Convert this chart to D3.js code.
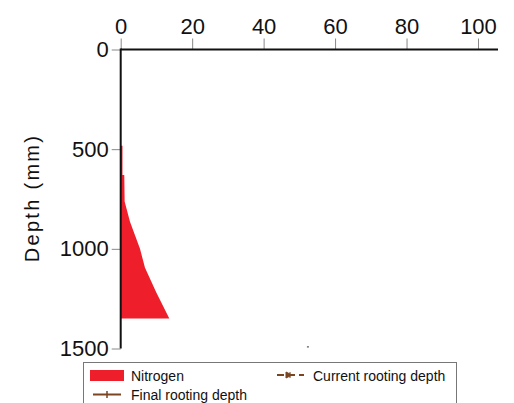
<!DOCTYPE html>
<html><head><meta charset="utf-8">
<script src="https://cdn.jsdelivr.net/npm/d3@7"></script>
<style>
html,body{margin:0;padding:0;background:#fff;}
svg{display:block;font-family:"Liberation Sans",Arial,sans-serif;}
</style></head>
<body>
<svg id="chart" width="514" height="403"></svg>
<script>
// Data
const xTicks = [0, 20, 40, 60, 80, 100];
const yTicks = [0, 500, 1000, 1500];
const nitrogenDepth = [483, 630, 630, 763, 864, 1000, 1095, 1220, 1350];
const nitrogenValue = [0.5, 0.5, 1.0, 1.1, 2.6, 5.4, 6.8, 10.0, 13.6];
const strayPoint = [{value: 52.4, depth: 1493}];
const legendItems = ["Nitrogen", "Current rooting depth", "Final rooting depth"];

const svg = d3.select("#chart");
const x = d3.scaleLinear().domain([0, 105.6]).range([120.7, 498]);
const y = d3.scaleLinear().domain([0, 1500]).range([49.5, 348.5]);

// Nitrogen area
const pts = nitrogenDepth.map((d, i) => ({depth: d, value: nitrogenValue[i]}));
const area = d3.area()
  .y(d => y(d.depth))
  .x0(x(0))
  .x1(d => x(d.value));
svg.append("path").datum(pts).attr("d", area).attr("fill", "#ee1f2b");

// stray dot
svg.selectAll(".stray").data(strayPoint).enter().append("rect")
  .attr("x", d => x(d.value) - 1).attr("y", d => y(d.depth) - 1)
  .attr("width", 2).attr("height", 1.5).attr("fill", "#777");

const fam = "Liberation Sans, Arial, sans-serif";
// Top axis
const xAxis = d3.axisTop(x).tickValues(xTicks).tickSize(11).tickPadding(5).tickFormat(d3.format("d"));
const gx = svg.append("g").attr("transform", `translate(0,${y(0)})`).call(xAxis);
gx.select(".domain").remove();
gx.selectAll(".tick line").attr("stroke", "#888");
gx.selectAll(".tick text").attr("font-size", 22).attr("fill", "#111").attr("font-family", fam);

// Left axis
const yAxis = d3.axisLeft(y).tickValues(yTicks).tickSize(9).tickPadding(3).tickFormat(d3.format("d"));
const gy = svg.append("g").attr("transform", `translate(${x(0)},0)`).call(yAxis);
gy.select(".domain").remove();
gy.selectAll(".tick line").attr("stroke", "#888");
gy.selectAll(".tick text").attr("font-size", 22).attr("fill", "#111").attr("font-family", fam);

// axis lines
svg.append("line").attr("x1", x(0)).attr("x2", x(105.6)).attr("y1", y(0)).attr("y2", y(0))
  .attr("stroke", "#111").attr("stroke-width", 2);
svg.append("line").attr("x1", x(0)).attr("x2", x(0)).attr("y1", y(0) - 1).attr("y2", y(1500))
  .attr("stroke", "#111").attr("stroke-width", 2);

// y label
svg.append("text").attr("transform", "translate(39,198) rotate(-90)")
  .attr("text-anchor", "middle").attr("font-size", 20).attr("letter-spacing", "2.3px")
  .attr("fill", "#111").text("Depth (mm)");

// Legend
const lg = svg.append("g");
lg.append("rect").attr("x", 83.5).attr("y", 362.5).attr("width", 373).attr("height", 60)
  .attr("fill", "#fff").attr("stroke", "#777").attr("stroke-width", 1);
lg.append("rect").attr("x", 90).attr("y", 370).attr("width", 34).attr("height", 11).attr("fill", "#ee1f2b");
lg.append("text").attr("x", 131).attr("y", 380.5).attr("font-size", 14).attr("fill", "#111").text(legendItems[0]);
// current rooting depth (dashed)
const brown = "#7a4520";
lg.append("line").attr("x1", 277).attr("x2", 304).attr("y1", 375).attr("y2", 375)
  .attr("stroke", brown).attr("stroke-width", 2).attr("stroke-dasharray", "7,4");
lg.append("path").attr("d", "M286,372 L292,375 L286,378 Z M290,372 L290,378").attr("fill", brown).attr("stroke", brown).attr("stroke-width", 1);
lg.append("text").attr("x", 313).attr("y", 380.5).attr("font-size", 14).attr("fill", "#111").text(legendItems[1]);
// final rooting depth (solid)
lg.append("line").attr("x1", 93).attr("x2", 121).attr("y1", 394.5).attr("y2", 394.5)
  .attr("stroke", brown).attr("stroke-width", 2);
lg.append("line").attr("x1", 107).attr("x2", 107).attr("y1", 391).attr("y2", 398)
  .attr("stroke", brown).attr("stroke-width", 1.5);
lg.append("text").attr("x", 131).attr("y", 399.5).attr("font-size", 14).attr("fill", "#111").text(legendItems[2]);
</script>
</body></html>
